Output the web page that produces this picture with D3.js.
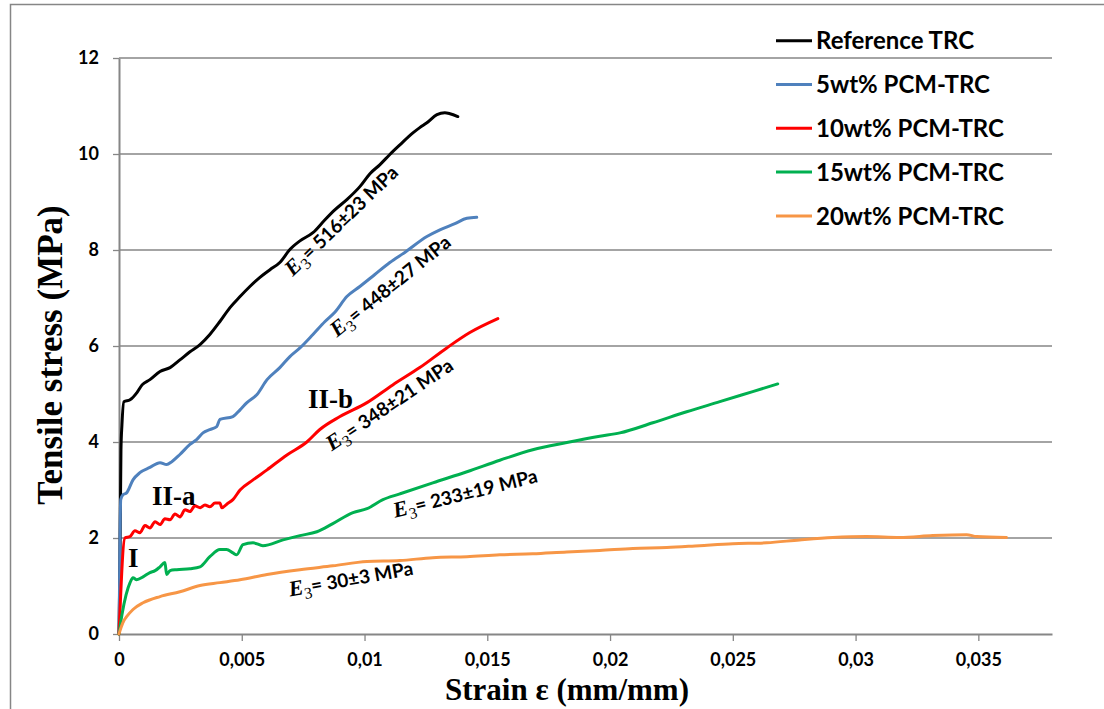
<!DOCTYPE html>
<html>
<head>
<meta charset="utf-8">
<script src="https://cdn.jsdelivr.net/npm/d3@7"></script>
<style>
  body { margin: 0; background: #fff; }
  svg { display: block; }
</style>
</head>
<body>
<div id="chart"></div>
<script>
// Tensile stress-strain curves.
const seriesNames = ["Reference TRC", "5wt% PCM-TRC", "10wt% PCM-TRC", "15wt% PCM-TRC", "20wt% PCM-TRC"];

const referenceStrain = [0, 0.00004, 0.00008, 0.00012, 0.0002, 0.00045, 0.00073, 0.00094, 0.00126, 0.00167, 0.00208, 0.00248, 0.00289, 0.0033, 0.0037, 0.00411, 0.00452, 0.00493, 0.00533, 0.00574, 0.00615, 0.00655, 0.00696, 0.00737, 0.0079, 0.00839, 0.0088, 0.00928, 0.00981, 0.01022, 0.01063, 0.01103, 0.01144, 0.01197, 0.01225, 0.01254, 0.01295, 0.01327, 0.01348, 0.0138];
const referenceStress = [0, 1.55, 3.84, 4.36, 4.84, 4.88, 5.03, 5.19, 5.30, 5.47, 5.55, 5.71, 5.88, 6.03, 6.24, 6.51, 6.80, 7.03, 7.24, 7.43, 7.59, 7.74, 8.01, 8.19, 8.36, 8.63, 8.84, 9.05, 9.32, 9.59, 9.78, 9.99, 10.19, 10.44, 10.55, 10.65, 10.82, 10.86, 10.84, 10.78];

const pcm5Strain = [0, 0.00002, 0.00004, 0.00007, 0.00016, 0.00031, 0.00057, 0.00085, 0.00126, 0.00167, 0.00194, 0.00215, 0.00248, 0.00289, 0.00316, 0.00342, 0.0037, 0.00398, 0.00411, 0.00464, 0.00493, 0.00521, 0.00562, 0.00603, 0.00655, 0.00696, 0.00737, 0.0079, 0.00839, 0.0088, 0.00928, 0.00981, 0.01042, 0.01103, 0.01164, 0.01254, 0.01307, 0.01368, 0.01417, 0.01457];
const pcm5Stress = [0, 0.92, 1.96, 2.80, 2.90, 2.94, 3.21, 3.36, 3.47, 3.57, 3.53, 3.59, 3.74, 3.95, 4.05, 4.19, 4.26, 4.32, 4.47, 4.53, 4.67, 4.82, 4.99, 5.30, 5.55, 5.78, 5.96, 6.24, 6.51, 6.71, 7.03, 7.24, 7.49, 7.74, 7.95, 8.28, 8.42, 8.55, 8.66, 8.68];

const pcm10Strain = [0, 0.00024, 0.00045, 0.00065, 0.00085, 0.00106, 0.00126, 0.00147, 0.00167, 0.00187, 0.00208, 0.00228, 0.00248, 0.00269, 0.00289, 0.00309, 0.0033, 0.0035, 0.0037, 0.00391, 0.00411, 0.00419, 0.0044, 0.00464, 0.00493, 0.00546, 0.00603, 0.00684, 0.00765, 0.00818, 0.009, 0.0101, 0.01115, 0.01225, 0.01335, 0.01429, 0.01543];
const pcm10Stress = [0, 2.0, 2.03, 2.15, 2.11, 2.26, 2.21, 2.34, 2.28, 2.40, 2.38, 2.50, 2.44, 2.59, 2.55, 2.67, 2.63, 2.69, 2.65, 2.73, 2.73, 2.63, 2.71, 2.80, 3.0, 3.21, 3.42, 3.73, 4.0, 4.26, 4.53, 4.82, 5.19, 5.55, 5.96, 6.28, 6.57];

const pcm15Strain = [0, 0.00012, 0.00029, 0.00045, 0.00057, 0.00072, 0.00098, 0.00126, 0.00147, 0.00167, 0.00187, 0.00194, 0.00208, 0.00235, 0.00289, 0.0033, 0.0037, 0.00411, 0.00438, 0.00464, 0.00479, 0.00505, 0.00546, 0.00586, 0.00668, 0.00737, 0.00806, 0.00871, 0.00953, 0.0101, 0.01075, 0.01144, 0.01278, 0.01417, 0.01551, 0.01685, 0.01824, 0.01958, 0.0204, 0.02174, 0.02312, 0.02447, 0.02581, 0.02683];
const pcm15Stress = [0, 0.4, 0.82, 1.07, 1.17, 1.13, 1.19, 1.28, 1.32, 1.40, 1.49, 1.24, 1.32, 1.34, 1.36, 1.40, 1.61, 1.76, 1.76, 1.69, 1.65, 1.86, 1.90, 1.84, 1.96, 2.05, 2.13, 2.30, 2.53, 2.61, 2.80, 2.92, 3.15, 3.38, 3.62, 3.84, 3.99, 4.12, 4.19, 4.40, 4.63, 4.84, 5.05, 5.21];

const pcm20Strain = [0, 0.00008, 0.0002, 0.00031, 0.00057, 0.00098, 0.00167, 0.00248, 0.0033, 0.00411, 0.00493, 0.00603, 0.00737, 0.00871, 0.0101, 0.01144, 0.01278, 0.01417, 0.01551, 0.01685, 0.01824, 0.01958, 0.02093, 0.02231, 0.02365, 0.025, 0.02638, 0.02772, 0.02907, 0.03045, 0.0318, 0.03314, 0.03452, 0.03493, 0.03615];
const pcm20Stress = [0, 0.13, 0.28, 0.36, 0.51, 0.65, 0.78, 0.88, 1.01, 1.07, 1.13, 1.24, 1.34, 1.42, 1.51, 1.53, 1.59, 1.61, 1.65, 1.67, 1.71, 1.74, 1.78, 1.80, 1.84, 1.88, 1.90, 1.96, 2.01, 2.03, 2.01, 2.05, 2.07, 2.03, 2.01];

const strainTicks = [0, 0.005, 0.01, 0.015, 0.02, 0.025, 0.03, 0.035];
const stressTicks = [0, 2, 4, 6, 8, 10, 12];

// modulus labels (stage III slope) and stage labels, anchored in data units
const modulusLabels = ["= 516±23 MPa", "= 448±27 MPa", "= 348±21 MPa", "= 233±19 MPa", "= 30±3 MPa"];
const modulusStrain = [0.00708, 0.00888, 0.00867, 0.01124, 0.00696];
const modulusStress = [7.44, 6.17, 3.80, 2.42, 0.78];
const stageLabels = ["I", "II-a", "II-b"];
const stageStrain = [0.00037, 0.00134, 0.0077];
const stageStress = [1.40, 2.69, 4.71];

const series = [
  { strain: referenceStrain, stress: referenceStress },
  { strain: pcm5Strain, stress: pcm5Stress },
  { strain: pcm10Strain, stress: pcm10Stress },
  { strain: pcm15Strain, stress: pcm15Stress },
  { strain: pcm20Strain, stress: pcm20Stress }
];
const colors = ["#000000", "#4f81bd", "#ff0000", "#00b050", "#f79646"];
const labelAngles = [-44, -39, -34, -14, -10];

const width = 1104;
const height = 709;
const sans = "Lato, 'Open Sans', sans-serif";
const serif = "'Liberation Serif', 'Times New Roman', serif";
const axisGrey = "#868686";

const svg = d3.select("#chart").append("svg")
  .attr("width", width)
  .attr("height", height);

// outer chart frame (cropped on the right and bottom)
svg.append("path")
  .attr("d", `M10.5,${height} V4.5 H${width}`)
  .attr("fill", "none")
  .attr("stroke", axisGrey)
  .attr("stroke-width", 1.5);

const x = d3.scaleLinear().domain([0, 0.038]).range([119, 1052]);
const y = d3.scaleLinear().domain([0, 12]).range([634, 58]);

svg.append("g")
  .selectAll("line")
  .data(stressTicks.filter(d => d > 0))
  .join("line")
  .attr("x1", x(0)).attr("x2", x(0.038))
  .attr("y1", d => y(d)).attr("y2", d => y(d))
  .attr("stroke", axisGrey)
  .attr("stroke-width", 1.3);

const formatStrain = d => d === 0 ? "0" : String(+d.toFixed(3)).replace(".", ",");

const yAxis = svg.append("g")
  .attr("transform", `translate(${x(0)},0)`)
  .call(d3.axisLeft(y).tickValues(stressTicks).tickSize(6).tickSizeOuter(0).tickPadding(14));

const xAxis = svg.append("g")
  .attr("transform", `translate(0,${y(0)})`)
  .call(d3.axisBottom(x).tickValues(strainTicks).tickFormat(formatStrain)
    .tickSize(7).tickSizeOuter(0).tickPadding(12));

[yAxis, xAxis].forEach(g => {
  g.select(".domain").attr("stroke", axisGrey).attr("stroke-width", 2);
  g.selectAll(".tick line").attr("stroke", axisGrey).attr("stroke-width", 1.3);
  g.selectAll(".tick text")
    .attr("fill", "#000")
    .style("font-family", sans)
    .style("font-weight", "bold")
    .style("font-size", "18px");
});

const line = d3.line()
  .x(d => x(d[0]))
  .y(d => y(d[1]))
  .curve(d3.curveMonotoneX);

svg.append("g")
  .selectAll("path")
  .data(series)
  .join("path")
  .attr("d", s => line(s.strain.map((v, i) => [v, s.stress[i]])))
  .attr("fill", "none")
  .attr("stroke", (s, i) => colors[i])
  .attr("stroke-width", 3)
  .attr("stroke-linejoin", "round")
  .attr("stroke-linecap", "round");

// E3 annotations
modulusLabels.forEach((label, i) => {
  const t = svg.append("text")
    .attr("transform", `translate(${x(modulusStrain[i])},${y(modulusStress[i])}) rotate(${labelAngles[i]})`)
    .attr("fill", "#000");
  t.append("tspan")
    .style("font-family", serif)
    .style("font-style", "italic")
    .style("font-weight", "bold")
    .style("font-size", "22px")
    .text("E");
  t.append("tspan")
    .attr("dy", 5)
    .style("font-family", serif)
    .style("font-size", "16px")
    .text("3");
  t.append("tspan")
    .attr("dy", -5)
    .style("font-family", sans)
    .style("font-weight", "bold")
    .style("font-size", "19px")
    .text(label);
});

svg.append("g")
  .selectAll("text")
  .data(stageLabels)
  .join("text")
  .attr("x", (d, i) => x(stageStrain[i]))
  .attr("y", (d, i) => y(stageStress[i]))
  .style("font-family", serif)
  .style("font-weight", "bold")
  .style("font-size", "27px")
  .text(d => d);

// axis titles
svg.append("text")
  .attr("transform", `translate(62,355) rotate(-90)`)
  .attr("text-anchor", "middle")
  .style("font-family", serif)
  .style("font-weight", "bold")
  .style("font-size", "35px")
  .text("Tensile stress (MPa)");

svg.append("text")
  .attr("x", 567)
  .attr("y", 700)
  .attr("text-anchor", "middle")
  .style("font-family", serif)
  .style("font-weight", "bold")
  .style("font-size", "31px")
  .text("Strain ε (mm/mm)");

// legend
const legend = svg.append("g")
  .selectAll("g")
  .data(seriesNames)
  .join("g")
  .attr("transform", (d, i) => `translate(776,${40.7 + i * 43.8})`);

legend.append("line")
  .attr("x1", 0).attr("x2", 36)
  .attr("stroke", (d, i) => colors[i])
  .attr("stroke-width", 3);

legend.append("text")
  .attr("x", 40)
  .attr("dy", "0.36em")
  .style("font-family", sans)
  .style("font-weight", "bold")
  .style("font-size", "24px")
  .text(d => d);
</script>
</body>
</html>
